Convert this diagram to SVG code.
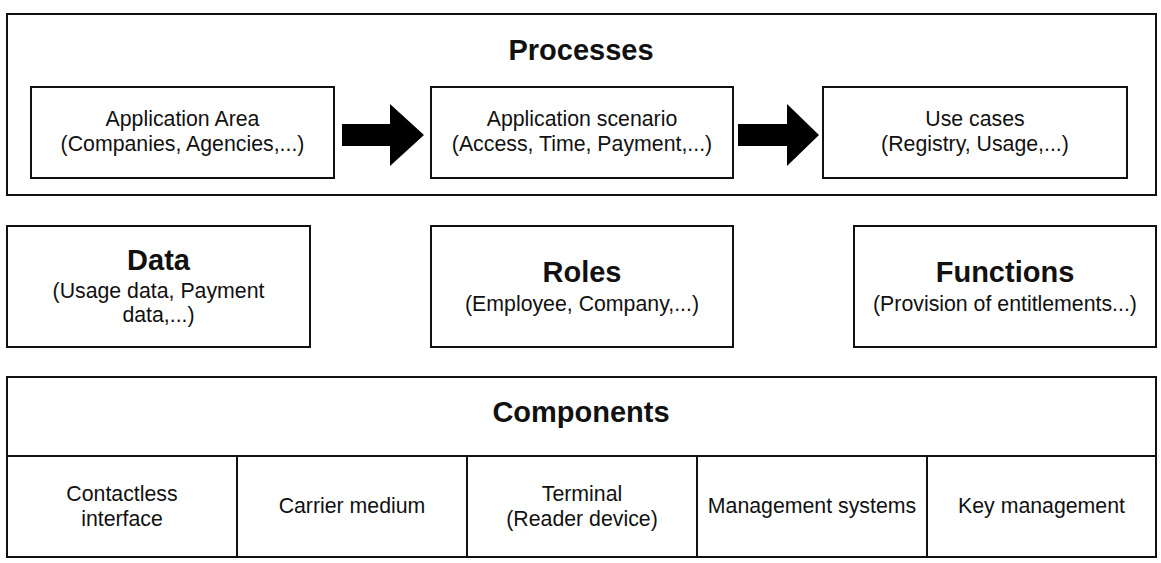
<svg xmlns="http://www.w3.org/2000/svg" width="1161" height="563" viewBox="0 0 1161 563">
<style>
.box{fill:#fff;stroke:#111;stroke-width:2}
.ln{stroke:#111;stroke-width:2;fill:none}
.t{font-family:"Liberation Sans",Arial,sans-serif;font-size:21.3px;fill:#111;text-anchor:middle}
.h{font-family:"Liberation Sans",Arial,sans-serif;font-size:29px;font-weight:bold;fill:#111;text-anchor:middle}
.arr{fill:#000}
</style>
<rect width="1161" height="563" fill="#fff"/>
<g id="processes">
<rect class="box" x="7" y="14" width="1149" height="181"/>
<text class="h" x="581" y="60">Processes</text>
</g>
<g id="application-area">
<rect class="box" x="31" y="87" width="303" height="91"/>
<text class="t" x="182.5" y="126">Application Area</text>
<text class="t" x="182.5" y="151">(Companies, Agencies,...)</text>
</g>
<g id="application-scenario">
<rect class="box" x="431" y="87" width="302" height="91"/>
<text class="t" x="582" y="126">Application scenario</text>
<text class="t" x="582" y="151">(Access, Time, Payment,...)</text>
</g>
<g id="use-cases">
<rect class="box" x="823" y="87" width="304" height="91"/>
<text class="t" x="975" y="126">Use cases</text>
<text class="t" x="975" y="151">(Registry, Usage,...)</text>
</g>
<g id="connectors">
<polygon class="arr" points="342,124 390,124 390,104 424,135 390,166 390,146 342,146"/>
<polygon class="arr" points="738,124 787,124 787,104 819,135 787,166 787,146 738,146"/>
</g>
<g id="data">
<rect class="box" x="7" y="226" width="303" height="121"/>
<text class="h" x="158.5" y="270">Data</text>
<text class="t" x="158.5" y="298">(Usage data, Payment</text>
<text class="t" x="158.5" y="322">data,...)</text>
</g>
<g id="roles">
<rect class="box" x="431" y="226" width="302" height="121"/>
<text class="h" x="582" y="282">Roles</text>
<text class="t" x="582" y="311">(Employee, Company,...)</text>
</g>
<g id="functions">
<rect class="box" x="854" y="226" width="302" height="121"/>
<text class="h" x="1005" y="282">Functions</text>
<text class="t" x="1005" y="311">(Provision of entitlements...)</text>
</g>
<g id="components">
<rect class="box" x="7" y="377" width="1149" height="180"/>
<line class="ln" x1="7" y1="456" x2="1156" y2="456"/>
<line class="ln" x1="237" y1="456" x2="237" y2="557"/>
<line class="ln" x1="467" y1="456" x2="467" y2="557"/>
<line class="ln" x1="697" y1="456" x2="697" y2="557"/>
<line class="ln" x1="927" y1="456" x2="927" y2="557"/>
<text class="h" x="581" y="422">Components</text>
</g>
<g id="contactless-interface">
<text class="t" x="122" y="501">Contactless</text>
<text class="t" x="122" y="526">interface</text>
</g>
<g id="carrier-medium">
<text class="t" x="352" y="513">Carrier medium</text>
</g>
<g id="terminal">
<text class="t" x="582" y="501">Terminal</text>
<text class="t" x="582" y="526">(Reader device)</text>
</g>
<g id="management-systems">
<text class="t" x="812" y="513">Management systems</text>
</g>
<g id="key-management">
<text class="t" x="1041.5" y="513">Key management</text>
</g>
</svg>
